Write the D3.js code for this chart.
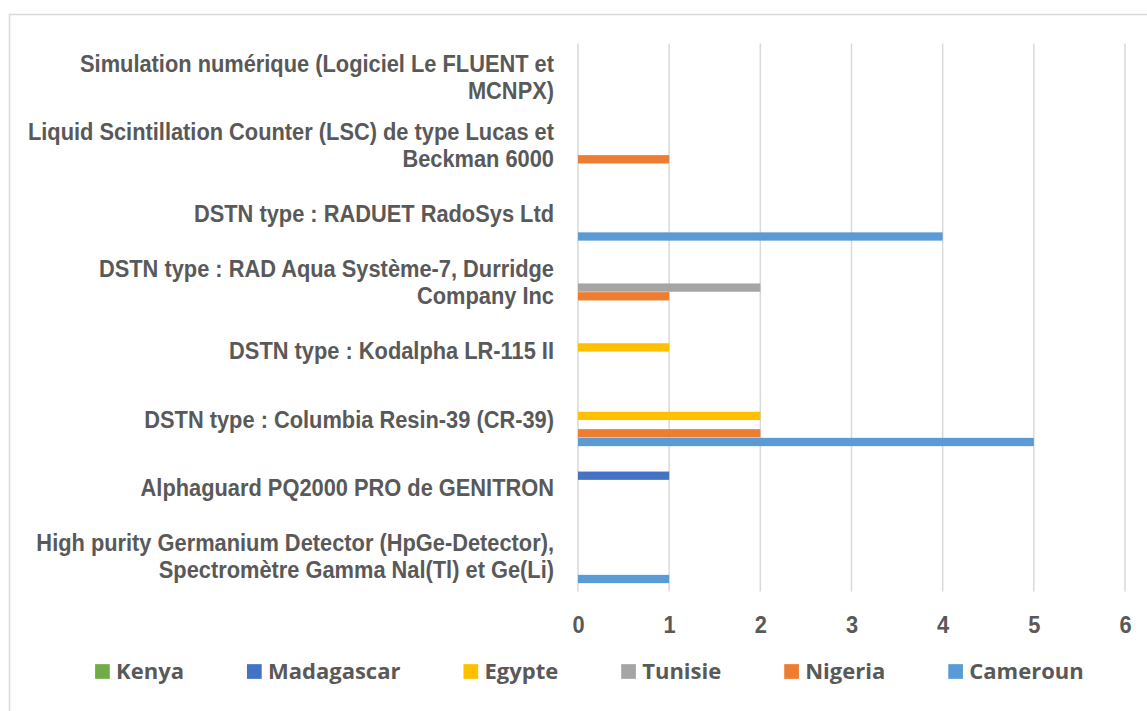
<!DOCTYPE html>
<html>
<head>
<meta charset="utf-8">
<script src="https://cdn.jsdelivr.net/npm/d3@7"></script>
<style>
  body { margin: 0; background: #fff; }
  .cat, .tick text { font-family: "Liberation Sans", Arial, sans-serif; font-weight: bold; fill: #595959; }
  .leg { font-family: "Open Sans", Lato, sans-serif; font-weight: bold; fill: #595959; }
</style>
</head>
<body>
<div id="chart"></div>
<script>
// categories bottom -> top, "\n" = line break as in the original
const categories = [
  "High purity Germanium Detector (HpGe-Detector),\nSpectromètre Gamma Nal(Tl) et Ge(Li)",
  "Alphaguard PQ2000 PRO de GENITRON",
  "DSTN type : Columbia Resin-39 (CR-39)",
  "DSTN type : Kodalpha LR-115 II",
  "DSTN type : RAD Aqua Système-7, Durridge\nCompany Inc",
  "DSTN type : RADUET RadoSys Ltd",
  "Liquid Scintillation Counter (LSC) de type Lucas et\nBeckman 6000",
  "Simulation numérique (Logiciel Le FLUENT et\nMCNPX)"
];
// series in legend order
const seriesNames = ["Kenya", "Madagascar", "Egypte", "Tunisie", "Nigeria", "Cameroun"];
const seriesColors = ["#70AD47", "#4472C4", "#FFC000", "#A5A5A5", "#ED7D31", "#5B9BD5"];
// values per series, same order as categories
const kenya      = [0, 0, 0, 0, 0, 0, 0, 0];
const madagascar = [0, 1, 0, 0, 0, 0, 0, 0];
const egypte     = [0, 0, 2, 1, 0, 0, 0, 0];
const tunisie    = [0, 0, 0, 0, 2, 0, 0, 0];
const nigeria    = [0, 0, 2, 0, 1, 0, 1, 0];
const cameroun   = [1, 0, 5, 0, 0, 4, 0, 0];
const seriesValues = [kenya, madagascar, egypte, tunisie, nigeria, cameroun];
const xTicks = [0, 1, 2, 3, 4, 5, 6];

const width = 1147, height = 711;
const plot = { left: 578, right: 1125, top: 43.5, bottom: 591.5 };
const fontSize = 23.3, squeeze = 0.937; // condensed look of the original labels

const svg = d3.select("#chart").append("svg")
  .attr("width", width).attr("height", height);

// chart area border (runs off the right and bottom edge in the original)
svg.append("rect")
  .attr("x", 9.5).attr("y", 14.5)
  .attr("width", 1200).attr("height", 800)
  .attr("fill", "none").attr("stroke", "#d9d9d9").attr("stroke-width", 1.5);

const x = d3.scaleLinear().domain([0, 6]).range([plot.left, plot.right]);

const y0 = d3.scaleBand()
  .domain(categories)
  .range([plot.bottom, plot.top])
  .paddingInner(0.238)
  .paddingOuter(0.119);

// Cameroun at the bottom of each group, Kenya at the top
const y1 = d3.scaleBand()
  .domain(seriesNames.slice().reverse())
  .range([y0.bandwidth(), 0]);

// gridlines
svg.append("g")
  .selectAll("line")
  .data(xTicks)
  .join("line")
  .attr("x1", d => x(d)).attr("x2", d => x(d))
  .attr("y1", plot.top).attr("y2", plot.bottom)
  .attr("stroke", "#d9d9d9").attr("stroke-width", 1.5);

// bars
const groups = svg.append("g")
  .selectAll("g")
  .data(categories)
  .join("g")
  .attr("transform", d => "translate(0," + y0(d) + ")");

groups.selectAll("rect")
  .data((c, ci) => seriesNames.map((s, si) => ({ s, si, v: seriesValues[si][ci] })))
  .join("rect")
  .filter(d => d.v > 0)
  .attr("x", x(0))
  .attr("y", d => y1(d.s) + 0.2)
  .attr("width", d => x(d.v) - x(0))
  .attr("height", y1.bandwidth() - 0.4)
  .attr("fill", d => seriesColors[d.si]);

// category labels
const lineH = 27;
svg.append("g")
  .selectAll("text")
  .data(categories)
  .join("text")
  .attr("class", "cat")
  .attr("text-anchor", "end")
  .attr("font-size", fontSize)
  .attr("transform", d => "translate(554," + (y0(d) + y0.bandwidth() / 2) + ") scale(" + squeeze + ",1)")
  .each(function (d) {
    const lines = d.split("\n");
    d3.select(this).selectAll("tspan")
      .data(lines)
      .join("tspan")
      .attr("x", 0)
      .attr("y", (l, i) => (i - (lines.length - 1) / 2) * lineH + 7.5)
      .text(l => l);
  });

// x axis labels
const xAxis = svg.append("g")
  .attr("transform", "translate(0," + plot.bottom + ")")
  .call(d3.axisBottom(x).tickValues(xTicks).tickSize(0).tickPadding(25).tickFormat(d3.format("d")));
xAxis.select(".domain").remove();
xAxis.selectAll("text")
  .attr("font-size", fontSize)
  .attr("transform", "scale(" + squeeze + ",1)");

// legend
const legend = svg.append("g").attr("transform", "translate(0,671.5)");
const items = legend.selectAll("g")
  .data(seriesNames)
  .join("g");
items.append("rect")
  .attr("width", 14.7).attr("height", 14.7)
  .attr("y", -7.35)
  .attr("fill", (d, i) => seriesColors[i]);
items.append("text")
  .attr("class", "leg")
  .attr("font-size", 22)
  .attr("x", 21)
  .attr("dy", "0.36em")
  .text(d => d);

let cursor = 0;
const offsets = [];
items.each(function () {
  offsets.push(cursor);
  cursor += 21 + d3.select(this).select("text").node().getComputedTextLength() + 63;
});
const total = cursor - 63;
const start = 589.4 - total / 2;
items.attr("transform", (d, i) => "translate(" + (start + offsets[i]) + ",0)");
</script>
</body>
</html>
